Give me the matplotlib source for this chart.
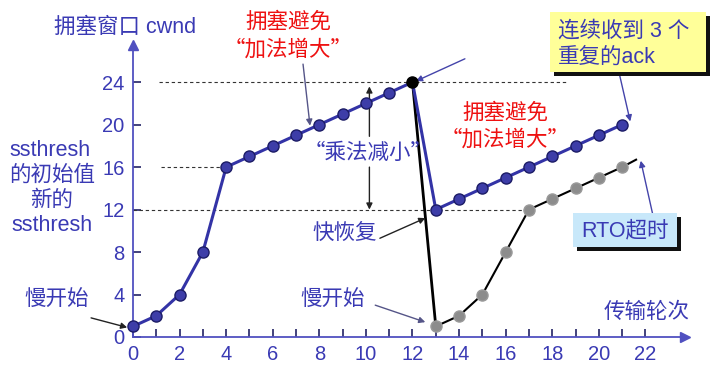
import matplotlib
matplotlib.use("Agg")
import matplotlib.pyplot as plt
from matplotlib.patches import Rectangle

plt.rcParams['font.family'] = ['Liberation Sans', 'Noto Sans CJK SC', 'DejaVu Sans']

# data
rounds_a = list(range(0, 13))
cwnd_a = [1, 2, 4, 8, 16, 17, 18, 19, 20, 21, 22, 23, 24]
rounds_b = list(range(13, 22))
cwnd_b = [12, 13, 14, 15, 16, 17, 18, 19, 20]
rounds_c = list(range(13, 22))
cwnd_c = [1, 2, 4, 8, 12, 13, 14, 15, 16]
tail_c = (21.6, 16.7)
x_ticks = list(range(0, 23, 2))
y_ticks = list(range(0, 25, 4))

BLUE = '#3333a6'
TXT = '#3a3ab4'
RED = '#ee1111'
FS = 15.5

W, H = 721, 376
fig = plt.figure(figsize=(W / 100, H / 100), dpi=100)
x0, x1 = 133, 685
y0, y1 = 337, 45
ax = fig.add_axes([x0 / W, 1 - y0 / H, (x1 - x0) / W, (y0 - y1) / H])
ax.set_xlim(0, 23.7)
ax.set_ylim(0, 27.5)

for s in ['top', 'right']:
    ax.spines[s].set_visible(False)
for s in ['left', 'bottom']:
    ax.spines[s].set_color('#5050c0')
    ax.spines[s].set_linewidth(1.3)
ax.plot(1, 0, '>', color='#5050c0', ms=7, transform=ax.get_yaxis_transform(), clip_on=False)
ax.plot(0, 1, '^', color='#5050c0', ms=7, transform=ax.get_xaxis_transform(), clip_on=False)

ax.set_xticks(x_ticks)
ax.set_xticks(range(0, 23), minor=True)
ax.set_yticks(y_ticks)
ax.tick_params(axis='both', which='both', direction='in', length=6, width=1.2,
               color='#222266', labelcolor=TXT, labelsize=14.5)
ax.tick_params(axis='x', pad=6)
ax.tick_params(axis='y', pad=6)

# dashed guide lines
dash = dict(color='#333333', lw=0.8, linestyle=(0, (3, 2.5)))
ax.plot([1.1, 18.6], [24, 24], **dash)
ax.plot([1.2, 4], [16, 16], **dash)
ax.plot([0, 17], [12, 12], **dash)

# lines
ax.plot(rounds_c + [tail_c[0]], cwnd_c + [tail_c[1]], color='black', lw=1.5, zorder=3)
ax.plot(rounds_c, cwnd_c, 'o', ms=8, mfc='#8c8c8c', mec='#9a9a9a', zorder=4, clip_on=False)
ax.plot([rounds_a[-1], rounds_c[0]], [cwnd_a[-1], cwnd_c[0]], color='black', lw=2, zorder=3)
ax.plot(rounds_a + rounds_b, cwnd_a + cwnd_b, color=BLUE, lw=2.2, zorder=5)
ax.plot(rounds_a[:-1] + rounds_b, cwnd_a[:-1] + cwnd_b, 'o', ms=8, mfc='#3d3da8',
        mec='#1c1c66', mew=1, zorder=6, clip_on=False)
ax.plot(rounds_a[-1], cwnd_a[-1], 'o', ms=8, mfc='black', mec='black', zorder=7)

# arrows
def arrow(xy, xytext, color, lw=1.0):
    ax.annotate('', xy=xy, xytext=xytext, annotation_clip=False,
                arrowprops=dict(arrowstyle='-|>', color=color, lw=lw,
                                mutation_scale=9, shrinkA=0, shrinkB=0))

arrow((7.6, 19.9), (7.3, 25.7), '#555588')
arrow((12.15, 24.1), (14.25, 26.2), '#4444aa')
arrow((21.35, 20.3), (20.9, 24.6), '#4444aa')
arrow((21.8, 16.6), (22.35, 11.2), '#4444aa')
arrow((-0.25, 0.9), (-1.8, 1.8), '#222222')
arrow((12.55, 11.2), (10.6, 9.3), '#222222')
arrow((12.55, 1.4), (10.4, 3.0), '#555588')
arrow((10.15, 23.6), (10.15, 18.9), '#222222')
arrow((10.15, 12.0), (10.15, 16.0), '#222222')

# texts
CJK = ['Noto Sans CJK SC', 'DejaVu Sans']

def ftext(px, py, s, color=TXT, ha='center', family=None):
    fig.text(px / W, 1 - py / H, s, color=color, fontsize=FS, ha=ha, va='center',
             family=family)

ftext(125, 27, '拥塞窗口 cwnd')
ftext(288, 22, '拥塞避免', RED)
ftext(288, 50, '“加法增大”', RED, family=CJK)
ftext(50, 150, 'ssthresh')
ftext(52, 175, '的初始值')
ftext(52, 200, '新的')
ftext(52, 225, 'ssthresh')
ftext(57, 300, '慢开始')
ftext(368, 153, '“乘法减小”', family=CJK)
ftext(345, 233, '快恢复')
ftext(333, 300, '慢开始')
ftext(505, 113, '拥塞避免', RED)
ftext(505, 140, '“加法增大”', RED, family=CJK)
ftext(647, 312, '传输轮次')

# boxes
def box(left, top, right, bottom, face):
    fig.patches.append(Rectangle(((left + 4) / W, 1 - (bottom + 4) / H), (right - left) / W,
                                 (bottom - top) / H, transform=fig.transFigure,
                                 facecolor='#111111', edgecolor='none', zorder=1))
    fig.patches.append(Rectangle((left / W, 1 - bottom / H), (right - left) / W,
                                 (bottom - top) / H, transform=fig.transFigure,
                                 facecolor=face, edgecolor='none', zorder=2))

box(550, 12, 706, 72, '#ffff99')
ftext(558, 31, '连续收到 3 个', ha='left')
ftext(558, 57, '重复的ack', ha='left')
box(573, 213, 677, 247, '#c8e8fa')
ftext(625, 231, 'RTO超时')

fig.savefig('out.png', dpi=100)
